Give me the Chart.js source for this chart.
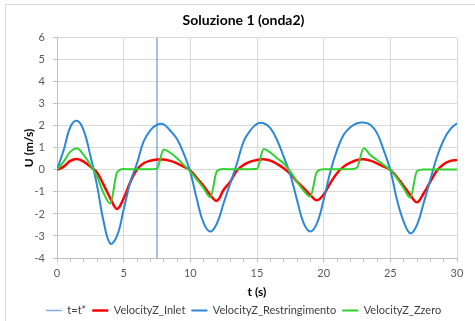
<!DOCTYPE html>
<html>
<head>
<meta charset="utf-8">
<script src="https://cdn.jsdelivr.net/npm/chart.js@4"></script>
<style>
    html, body { margin: 0; padding: 0; background: #ffffff; }
    #wrap { width: 475px; height: 321px; }
</style>
</head>
<body>
<div id="wrap"><canvas id="graficaOnda" width="475" height="321"></canvas></div>
<script>
// tiempo (s), paso 0.5
const tempo = [
    0, 0.5, 1, 1.5, 2, 2.5, 3, 3.5, 4, 4.5,
    5, 5.5, 6, 6.5, 7, 7.5, 8, 8.5, 9, 9.5,
    10, 10.5, 11, 11.5, 12, 12.5, 13, 13.5, 14, 14.5,
    15, 15.5, 16, 16.5, 17, 17.5, 18, 18.5, 19, 19.5,
    20, 20.5, 21, 21.5, 22, 22.5, 23, 23.5, 24, 24.5,
    25, 25.5, 26, 26.5, 27, 27.5, 28, 28.5, 29, 29.5, 30
];
const velInlet = [
    0, 0.15, 0.41, 0.5, 0.38, 0.15, -0.12, -0.68, -1.29, -1.77,
    -1.29, -0.55, 0.02, 0.3, 0.42, 0.47, 0.47, 0.41, 0.3, 0.15,
    -0.03, -0.38, -0.73, -1.14, -1.4, -0.9, -0.53, -0.03, 0.23, 0.38,
    0.45, 0.48, 0.42, 0.27, 0.08, -0.18, -0.53, -0.83, -1.14, -1.38,
    -1.12, -0.6, -0.15, 0.15, 0.33, 0.45, 0.48, 0.42, 0.3, 0.15,
    0, -0.33, -0.73, -1.14, -1.47, -1.06, -0.53, -0.03, 0.26, 0.41, 0.45
];
const velRestringimento = [
    0, 0.9, 1.95, 2.23, 1.8, 0.65, -0.7, -2.35, -3.35, -3.0,
    -1.8, -0.55, 0.3, 1.3, 1.8, 2.05, 2.07, 1.78, 1.4, 0.75,
    -0.1, -1.36, -2.42, -2.8, -2.42, -1.5, -0.6, 0.3, 1.3, 1.8,
    2.09, 2.12, 1.9, 1.36, 0.6, -0.23, -1.36, -2.42, -2.8, -2.42,
    -1.36, -0.08, 0.9, 1.6, 1.94, 2.12, 2.15, 2.05, 1.67, 0.9,
    0, -1.36, -2.35, -2.88, -2.5, -1.5, -0.45, 0.6, 1.36, 1.85, 2.12
];
const velZzero = [
    0, 0.38, 0.83, 0.98, 0.68, 0.23, -0.3, -1.06, -1.53, -0.12,
    0.04, 0.03, 0.03, 0.03, 0.03, 0.06, 0.93, 0.78, 0.53, 0.23,
    -0.08, -0.45, -0.83, -1.24, -0.05, 0.04, 0.03, 0.03, 0.03, 0.03,
    0.05, 0.95, 0.79, 0.53, 0.3, -0.08, -0.53, -0.94, -1.21, -0.08,
    0.03, 0.03, 0.03, 0.03, 0.03, 0.1, 0.98, 0.68, 0.45, 0.23,
    0, -0.38, -0.83, -1.26, -0.05, 0.02, 0.02, 0.02, 0.02, 0.02, 0.02
];
// linea verticale t = t*
const tStarX = [7.5, 7.5];
const tStarY = [-4, 6];

const etichette = ['t=t*', 'VelocityZ_Inlet', 'VelocityZ_Restringimento', 'VelocityZ_Zzero'];
const colori = ['#86acdc', '#ff0000', '#2b88d8', '#2fd12f'];

function punti(xs, ys) {
    return xs.map((x, i) => ({ x: x, y: ys[i] }));
}

const cornice = {
    id: 'cornice',
    beforeDraw(chart) {
        const c = chart.ctx;
        c.save();
        c.strokeStyle = '#d9d9d9';
        c.lineWidth = 1;
        c.beginPath();
        c.moveTo(5.5, 330);
        c.lineTo(5.5, 4.5);
        c.lineTo(480, 4.5);
        c.stroke();
        c.restore();
    }
};

document.addEventListener('DOMContentLoaded', function () {
    const ctx = document.getElementById('graficaOnda');
    const fontBase = 'Lato';
    const liscia = { pointRadius: 0, pointHoverRadius: 0, fill: false, tension: 0.4 };
    const spigolosa = { pointRadius: 0, pointHoverRadius: 0, fill: false, cubicInterpolationMode: 'monotone' };

    new Chart(ctx, {
        type: 'line',
        data: {
            datasets: [
                Object.assign({ label: etichette[0], data: punti(tStarX, tStarY), borderColor: colori[0], backgroundColor: colori[0], borderWidth: 1.5, order: 4 }, spigolosa),
                Object.assign({ label: etichette[1], data: punti(tempo, velInlet), borderColor: colori[1], backgroundColor: colori[1], borderWidth: 2.5, order: 3 }, liscia),
                Object.assign({ label: etichette[2], data: punti(tempo, velRestringimento), borderColor: colori[2], backgroundColor: colori[2], borderWidth: 2, order: 2 }, liscia),
                Object.assign({ label: etichette[3], data: punti(tempo, velZzero), borderColor: colori[3], backgroundColor: colori[3], borderWidth: 2, order: 1 }, spigolosa)
            ]
        },
        options: {
            responsive: false,
            animation: false,
            layout: { padding: { left: 30, right: 18, top: 0, bottom: -5 } },
            plugins: {
                title: {
                    display: true,
                    text: 'Soluzione 1 (onda2)',
                    color: '#000000',
                    font: { family: fontBase, size: 14, weight: 'bold' },
                    padding: { top: 12, bottom: 9 }
                },
                legend: {
                    display: true,
                    position: 'bottom',
                    labels: {
                        usePointStyle: true,
                        pointStyle: 'line',
                        pointStyleWidth: 16,
                        padding: 6,
                        color: '#404040',
                        font: { family: fontBase, size: 11 },
                        sort: (a, b) => a.datasetIndex - b.datasetIndex
                    }
                },
                tooltip: { enabled: false }
            },
            scales: {
                x: {
                    type: 'linear',
                    min: 0,
                    max: 30,
                    afterFit: (scale) => { scale.height = 41; },
                    ticks: {
                        stepSize: 1,
                        autoSkip: false,
                        maxRotation: 0,
                        padding: 5,
                        color: '#595959',
                        font: { family: fontBase, size: 11 },
                        callback: (v) => (v % 5 === 0 ? v : '')
                    },
                    grid: {
                        color: (c) => (c.tick && c.tick.value % 5 === 0 ? '#d9d9d9' : 'rgba(0,0,0,0)'),
                        tickColor: '#bfbfbf',
                        tickLength: 4
                    },
                    border: { color: '#bfbfbf' },
                    title: {
                        display: true,
                        text: 't (s)',
                        color: '#000000',
                        font: { family: fontBase, size: 12, weight: 'bold' },
                        padding: { top: 0, bottom: 0 }
                    }
                },
                y: {
                    min: -4,
                    max: 6,
                    afterFit: (scale) => { scale.width = 27; },
                    ticks: {
                        stepSize: 1,
                        padding: 8,
                        color: '#595959',
                        font: { family: fontBase, size: 11 }
                    },
                    grid: { color: '#d9d9d9', tickColor: '#bfbfbf', tickLength: 4 },
                    border: { color: '#bfbfbf' },
                    title: {
                        display: true,
                        text: 'U (m/s)',
                        color: '#000000',
                        font: { family: fontBase, size: 12, weight: 'bold' },
                        padding: { top: -8, bottom: 0 }
                    }
                }
            }
        },
        plugins: [cornice]
    });
});
</script>
</body>
</html>
